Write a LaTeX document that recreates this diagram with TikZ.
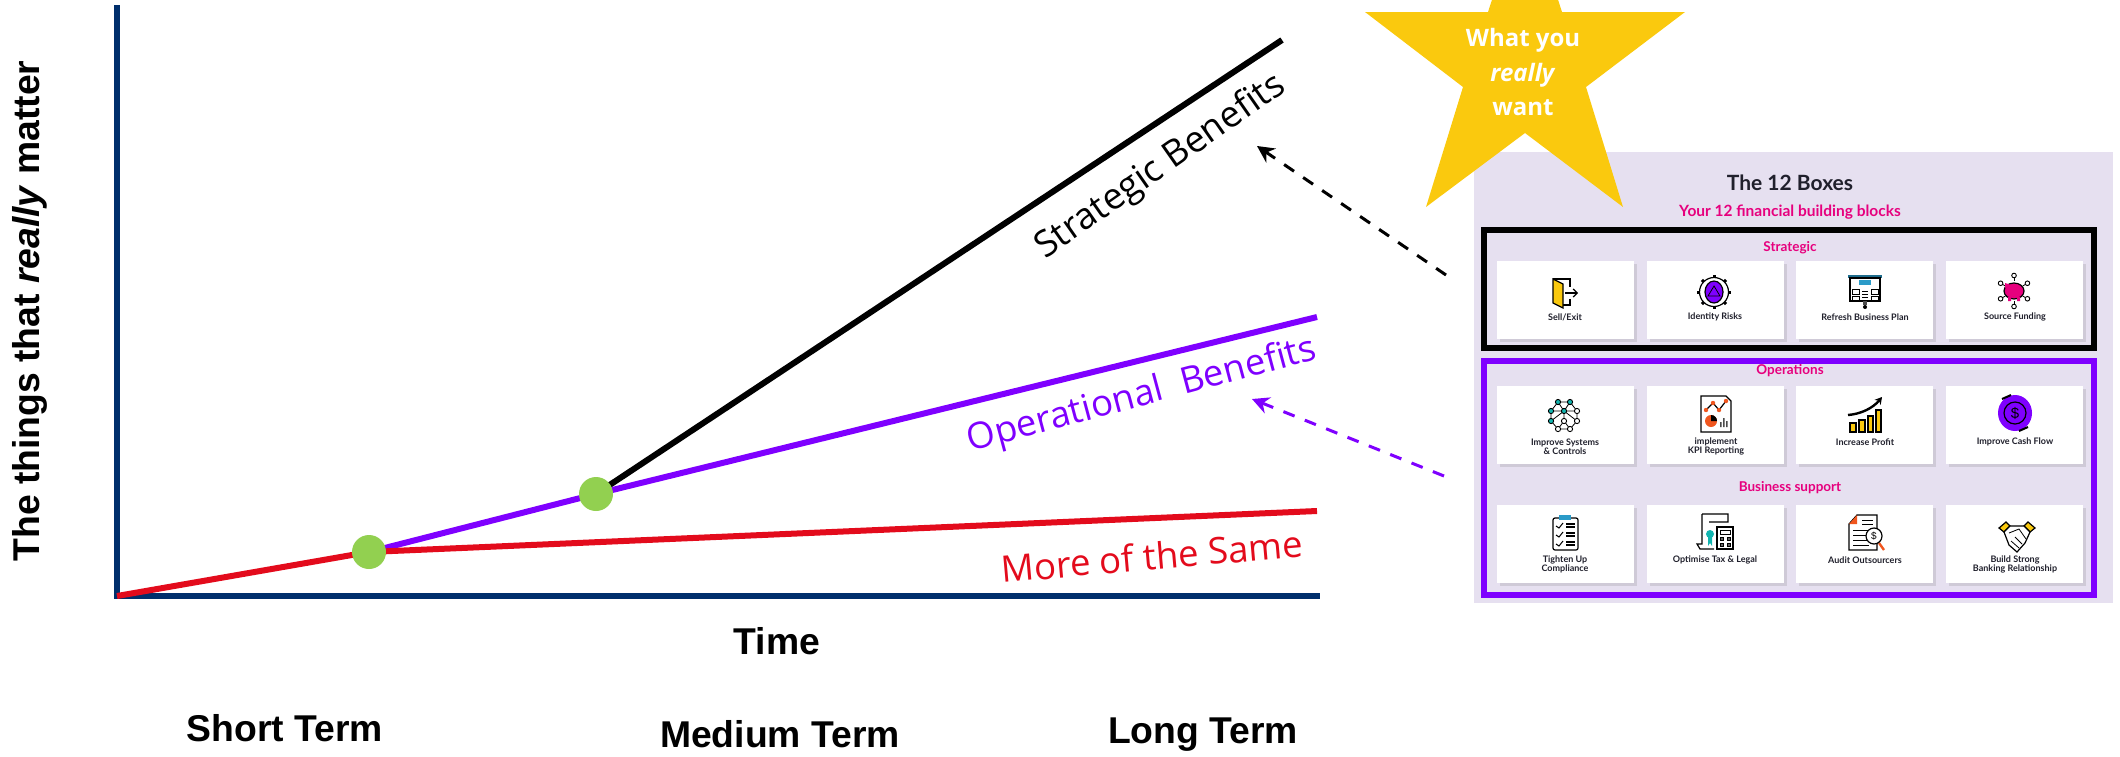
\documentclass[tikz,border=0pt]{standalone}
\usepackage{fontspec}
\setmainfont{Open Sans}
\newfontfamily\axisfont{Liberation Sans}
\newfontfamily\boxfont{Lato}
\usetikzlibrary{arrows.meta,shadows}
\definecolor{axisnavy}{HTML}{002F6C}
\definecolor{linered}{HTML}{E30B1C}
\definecolor{linepurple}{HTML}{7F00FF}
\definecolor{dotgreen}{HTML}{92D050}
\definecolor{staryellow}{HTML}{FAC90E}
\definecolor{panelbg}{HTML}{E6E0F0}
\definecolor{boxpink}{HTML}{E6007E}
\definecolor{boxink}{HTML}{20202C}
\definecolor{iconteal}{HTML}{12B5B0}
\definecolor{iconorange}{HTML}{F0561E}
\definecolor{iconblue}{HTML}{2B9BC8}
\tikzset{
	axisline/.style={axisnavy,line width=6pt},
	growth/.style={line width=6pt},
	greendot/.style={circle,fill=dotgreen,minimum size=34pt,inner sep=0pt},
	pointer/.style={dashed,line width=3pt,dash pattern=on 12pt off 11pt,-{Stealth[length=17pt,width=17pt]}},
	axislabel/.style={font=\axisfont\bfseries\fontsize{37.3}{37}\selectfont,inner sep=0pt},
	curvelabel/.style={font=\fontsize{36.5}{37}\selectfont,inner sep=0pt},
	starlabel/.style={white,font=\bfseries\fontsize{24}{24}\selectfont,inner sep=0pt},
	frame/.style={line width=6pt},
	card/.style={fill=white,minimum width=137pt,minimum height=78pt,inner sep=0pt,drop shadow={shadow xshift=3pt,shadow yshift=-3pt,opacity=.22}},
	cardlabel/.style={boxink,font=\boxfont\bfseries\fontsize{9}{9}\selectfont,align=center,inner sep=0pt},
	pinklabel/.style={boxpink,font=\boxfont\bfseries\fontsize{13.5}{14}\selectfont,inner sep=0pt},
	ic/.style={line width=1.2pt,black},
}
\begin{document}
\begin{tikzpicture}[x=1pt,y=-1pt]
	\clip (0,0) rectangle (2120,756);
	\coordinate (axisTop) at (117,5);
	\coordinate (origin) at (117,596);
	\coordinate (axisEnd) at (1320,596);
	\coordinate (pointA) at (369,552);
	\coordinate (pointB) at (596,494);
	\coordinate (redEnd) at (1317,511);
	\coordinate (purpleEnd) at (1317,317);
	\coordinate (blackEnd) at (1282,40);
	\draw[axisline] (axisTop) -- (origin) -- (axisEnd);
	\draw[growth,black] (pointB) -- (blackEnd);
	\draw[growth,linepurple] (pointA) -- (pointB) -- (purpleEnd);
	\draw[growth,linered] (origin) -- (pointA) -- (redEnd);
	\node[greendot] (dotA) at (pointA) {};
	\node[greendot] (dotB) at (pointB) {};
	\node[axislabel,rotate=90] (yLabel) at (30,311) {The things that \textit{really} matter};
	\node[axislabel] (timeLabel) at (777,641) {Time};
	\node[axislabel] (shortLabel) at (285,728) {Short Term};
	\node[axislabel] (mediumLabel) at (780,734) {Medium Term};
	\node[axislabel] (longLabel) at (1203,735) {Long Term};
	\node[curvelabel,rotate=35] (strategicLabel) at (1161,167) {Strategic Benefits};
	\node[curvelabel,rotate=15,linepurple] (operationalLabel) at (1142,396) {Operational\ \ Benefits};
	\node[curvelabel,rotate=5,linered] (sameLabel) at (1152,556) {More of the Same};

	\fill[panelbg] (1474,152) rectangle (2113,603);
	\node[boxink,font=\boxfont\bfseries\fontsize{21}{21}\selectfont,inner sep=0pt] (panelTitle) at (1790,183) {The 12 Boxes};
	\node[pinklabel,font=\boxfont\bfseries\fontsize{15.5}{16}\selectfont] (panelSub) at (1790,212) {Your 12 financial building blocks};
	\node[pinklabel] (strategicHead) at (1790,248) {Strategic};
	\node[pinklabel] (operationsHead) at (1790,371) {Operations};
	\node[pinklabel] (supportHead) at (1790,488) {Business support};

	\node[card] (sellCard) at (1565.5,300) {};
	\node[card] (riskCard) at (1715,300) {};
	\node[card] (planCard) at (1864.5,300) {};
	\node[card] (fundCard) at (2014.5,300) {};
	\node[card] (systemsCard) at (1565.5,424.5) {};
	\node[card] (kpiCard) at (1715,424.5) {};
	\node[card] (profitCard) at (1864.5,424.5) {};
	\node[card] (cashCard) at (2014.5,424.5) {};
	\node[card] (complianceCard) at (1565.5,543.5) {};
	\node[card] (taxCard) at (1715,543.5) {};
	\node[card] (auditCard) at (1864.5,543.5) {};
	\node[card] (bankCard) at (2014.5,543.5) {};

	\node[cardlabel] (sellText) at (1565,317) {Sell/Exit};
	\node[cardlabel] (riskText) at (1715,317) {Identity Risks};
	\node[cardlabel] (planText) at (1865,317) {Refresh Business Plan};
	\node[cardlabel] (fundText) at (2015,317) {Source Funding};
	\node[cardlabel] (systemsText) at (1565,446.5) {Improve Systems\\\& Controls};
	\node[cardlabel] (kpiText) at (1716,446.5) {implement\\KPI Reporting};
	\node[cardlabel] (profitText) at (1865,442) {Increase Profit};
	\node[cardlabel] (cashText) at (2015,442) {Improve Cash Flow};
	\node[cardlabel] (complianceText) at (1565,564.5) {Tighten Up\\Compliance};
	\node[cardlabel] (taxText) at (1715,560) {Optimise Tax \& Legal};
	\node[cardlabel] (auditText) at (1865,560) {Audit Outsourcers};
	\node[cardlabel] (bankText) at (2015,564.5) {Build Strong\\Banking Relationship};

	\begin{scope}[shift={(1565,293)},ic]
		\draw (-12,-14) -- (5,-14) -- (5,-6) (5,6) -- (5,12) -- (-2,12);
		\draw[fill=staryellow] (-12,-14) -- (-2,-9) -- (-2,15) -- (-12,10) -- cycle;
		\draw[-{Straight Barb[length=4pt]}] (0,0) -- (13,0);
	\end{scope}
	\begin{scope}[shift={(1714,292)},ic]
		\foreach \a in {0,45,...,315}
			\draw[line width=3pt] (\a:13) -- (\a:17);
		\draw[fill=white] (0,0) circle (14.5);
		\draw[fill=linepurple] (0,0) ellipse (9 and 11);
		\draw[line width=.8pt] (0,-6) -- (6,4) -- (-6,4) -- cycle;
	\end{scope}
	\begin{scope}[shift={(1865,291)},ic]
		\fill[iconblue!70!black] (-17,-16) rectangle (17,-13);
		\draw[fill=white] (-15,-13) rectangle (15,10);
		\fill[iconblue] (-6,-11) rectangle (6,-6);
		\draw[line width=.8pt,fill=white] (-13,-2) rectangle (-6,3) (6,-2) rectangle (13,3) (-13,5) rectangle (-6,9) (6,5) rectangle (13,9);
		\draw[line width=.8pt] (-3,0) -- (3,0) (-3,3) -- (3,3) (-3,6) -- (3,6);
		\fill[black!70] (-2,10) rectangle (2,14);
		\fill (0,16) circle (2);
	\end{scope}
	\begin{scope}[shift={(2014,291)},ic]
		\foreach \a in {30,90,150,210,270,330} {
			\draw[line width=.8pt] (\a:10) -- (\a:13);
			\draw[line width=.9pt,fill=white] (\a:15.5) circle (2.3);
		}
		\draw[fill=boxpink] (0,0) ellipse (10 and 8);
		\fill[boxpink] (-9,-8) -- (-3,-6) -- (-9,-3) -- cycle;
		\fill[boxpink] (-6,6) rectangle (-3,10) (3,6) rectangle (6,10);
	\end{scope}

	\begin{scope}[shift={(1564,415)},ic]
		\draw[line width=.8pt] (-6,-13) -- (6,-13) -- (13,-4) -- (13,6) -- (6,14) -- (-6,14) -- (-13,6) -- (-13,-4) -- cycle;
		\draw[line width=.8pt] (-6,-13) -- (0,-4) -- (6,-13) (0,-4) -- (13,6) (0,-4) -- (-13,6) (-13,-4) -- (0,-4) -- (13,-4) (0,-4) -- (0,6) -- (6,14) (0,6) -- (-6,14);
		\draw[line width=.9pt,fill=iconteal] (-6,-13) circle (2.6) (6,-13) circle (2.6) (-13,-4) circle (2.6) (0,-4) circle (2.6) (-13,6) circle (2.6);
		\draw[line width=.9pt,fill=white] (13,-4) circle (2.6) (13,6) circle (2.6) (0,6) circle (2.6) (-6,14) circle (2.6) (6,14) circle (2.6);
	\end{scope}
	\begin{scope}[shift={(1716,413)},ic]
		\draw[fill=white] (-15,-17) -- (10,-17) -- (15,-12) -- (15,19) -- (-15,19) -- cycle;
		\draw (-10,-3) -- (-3,-10) -- (3,-3) -- (10,-12);
		\fill[iconorange] (-10,-3) circle (2.2) (-3,-10) circle (2.2) (3,-3) circle (2.2) (10,-12) circle (2.2);
		\fill[iconorange] (-5,8) circle (6);
		\fill[black] (-5,8) -- (-5,2) arc (-90:0:6) -- cycle;
		\fill[black!70] (4,9) rectangle (5.5,14) (7,5) rectangle (8.5,14) (10,8) rectangle (11.5,14);
	\end{scope}
	\begin{scope}[shift={(1865,415)},ic]
		\draw[fill=staryellow] (-15,8) rectangle (-9,17) (-6,5) rectangle (0,17) (3,1) rectangle (8,17) (11,-5) rectangle (16,17);
		\draw[line width=2.4pt,-{Stealth[length=7pt,width=8pt]}] (-17,0) .. controls (-4,-1) and (8,-7) .. (17,-18);
	\end{scope}
	\begin{scope}[shift={(2015,413)},ic]
		\fill[linepurple] (0,0) ellipse (17 and 18);
		\draw[black,fill=linepurple] (0,0) circle (11);
		\node[font=\axisfont\fontsize{15}{15}\selectfont,inner sep=0pt] (cashSign) at (0,0) {\$};
		\draw[line width=2pt] (-13,-14) -- (-4,-18) (13,14) -- (4,18);
	\end{scope}

	\begin{scope}[shift={(1565,533)},ic]
		\draw[fill=white,rounded corners=2pt] (-12,-15) rectangle (13,17);
		\fill[iconblue] (-6,-18) rectangle (6,-13);
		\foreach \r in {-7,2,11} {
			\draw[line width=1pt] (-9,\r) -- (-6,{\r+2}) -- (-2,{\r-3});
			\draw[line width=1.6pt] (1,{\r-2}) -- (10,{\r-2}) (1,{\r+1}) -- (10,{\r+1});
		}
	\end{scope}
	\begin{scope}[shift={(1714,531)},ic]
		\draw[fill=white] (-12,-17) -- (14,-17) -- (14,-9) -- (-5,-9) (-12,-17) -- (-12,13) -- (-17,13) -- (-14,18) -- (0,18);
		\fill[iconteal] (-4,3) circle (4);
		\fill[iconteal] (-6,6) -- (-2,6) -- (-2,15) -- (-4,12) -- (-6,15) -- cycle;
		\draw[fill=white] (3,-4) rectangle (19,18);
		\draw[line width=.8pt] (6,-1) rectangle (16,3);
		\draw[line width=1pt,fill=black!60] (6,6) rectangle (9,9) (13,6) rectangle (16,9) (6,12) rectangle (9,15) (13,12) rectangle (16,15);
	\end{scope}
	\begin{scope}[shift={(1865,533)},ic]
		\draw[fill=white] (-8,-18) -- (12,-18) -- (12,17) -- (-16,17) -- (-16,-9) -- cycle;
		\fill[iconorange] (-8,-18) -- (-8,-9) -- (-16,-9) -- cycle;
		\draw[line width=1pt] (-3,-13) -- (8,-13) (-3,-9) -- (8,-9) (-12,-3) -- (4,-3) (-12,2) -- (2,2) (-12,7) -- (2,7) (-12,12) -- (4,12);
		\draw[line width=2.4pt,iconorange] (14,10) -- (19,17);
		\draw[fill=white] (9,3) circle (8);
		\node[font=\axisfont\fontsize{10}{10}\selectfont,inner sep=0pt] (auditSign) at (9,3) {\$};
	\end{scope}
	\begin{scope}[shift={(2017,537)},ic]
		\fill[staryellow] (-18,-9) -- (-11,-15) -- (-7,-11) -- (-13,-5) -- cycle;
		\fill[staryellow] (18,-9) -- (11,-15) -- (7,-11) -- (13,-5) -- cycle;
		\draw (-18,-9) -- (-11,-15) -- (-7,-11) -- (-13,-5) -- cycle;
		\draw (18,-9) -- (11,-15) -- (7,-11) -- (13,-5) -- cycle;
		\draw[fill=white] (-13,-5) -- (-7,-11) -- (7,-11) -- (13,-5) -- (8,6) -- (0,15) -- (-8,8) -- cycle;
		\draw[line width=.8pt] (-8,-4) -- (2,-8) -- (9,2) (-6,4) -- (2,11) (-2,0) -- (5,7);
	\end{scope}

	\draw[frame,black] (1484,230) rectangle (2094,347.5);
	\draw[frame,linepurple] (1484,361) rectangle (2094,595);

	\fill[staryellow] (1525,-102) -- (1562,12) -- (1685,12) -- (1586,87) -- (1623,207) -- (1525,133) -- (1426,207) -- (1463,87) -- (1365,12) -- (1488,12) -- cycle;
	\node[starlabel] (starOne) at (1523,40) {What you};
	\node[starlabel] (starTwo) at (1523,75) {\textit{really}};
	\node[starlabel] (starThree) at (1523,108) {want};

	\coordinate (strategicTail) at (1446,275);
	\coordinate (strategicTip) at (1257,146);
	\coordinate (operationsTail) at (1444,476);
	\coordinate (operationsTip) at (1252,399);
	\draw[pointer,black] (strategicTail) -- (strategicTip);
	\draw[pointer,linepurple] (operationsTail) -- (operationsTip);
\end{tikzpicture}
\end{document}
